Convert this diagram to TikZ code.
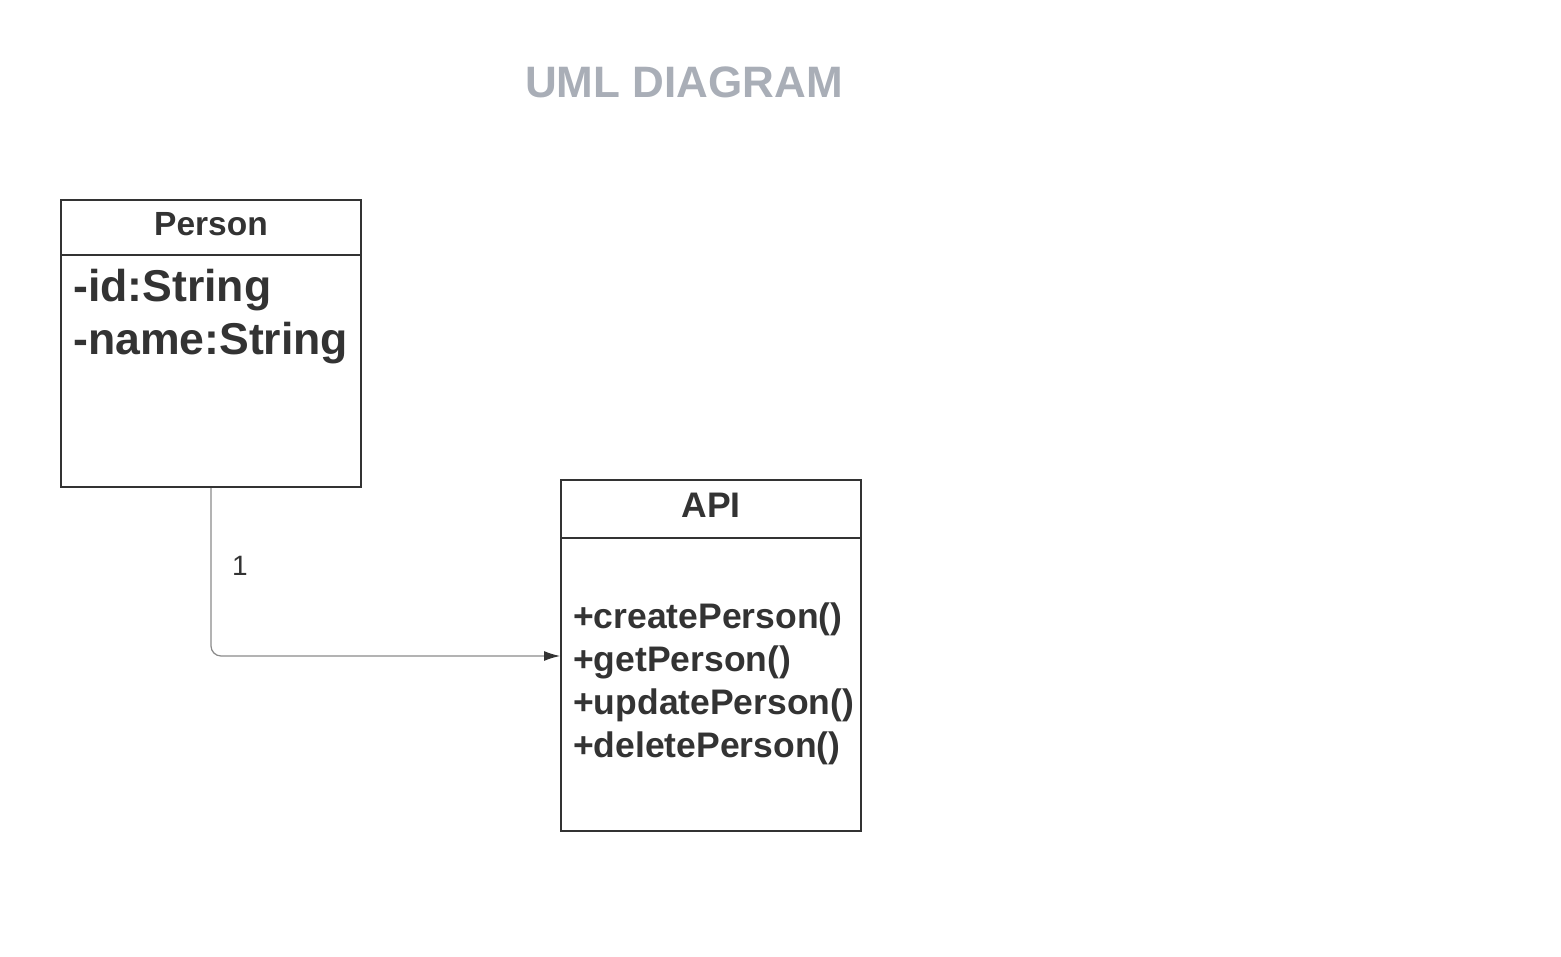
\documentclass[tikz,border=0pt]{standalone}
\usepackage{fontspec}
\setmainfont{Liberation Sans}
\usepackage{tikz}
\usetikzlibrary{arrows.meta}

\definecolor{ink}{HTML}{333333}
\definecolor{titlegray}{HTML}{A9AEB7}
\definecolor{wire}{HTML}{8A8A8A}

\tikzset{
    classbox/.style={draw=ink, line width=2pt, minimum width=300pt, inner sep=0pt},
    member/.style={text=ink, font=\fontsize{#1}{#1}\selectfont\bfseries, anchor=base west, inner sep=0pt},
}

\begin{document}
\begin{tikzpicture}[x=1pt,y=-1pt]
            \useasboundingbox (0,0) rectangle (1561,957);

            % class boxes
            \node[classbox, minimum height=287pt] (person) at (211,343.5) {};
            \draw[ink, line width=2pt] ([yshift=-56pt]person.north west) -- ([yshift=-56pt]person.north east);
            \node[classbox, minimum height=351pt] (api) at (711,655.5) {};
            \draw[ink, line width=2pt] ([yshift=-59pt]api.north west) -- ([yshift=-59pt]api.north east);

            \node[text=titlegray, font=\fontsize{44}{50}\selectfont\bfseries] (title) at (684,82) {UML DIAGRAM};

            \node[text=ink, font=\fontsize{33.5}{38}\selectfont\bfseries] (pname) at (211,224) {Person};
            \node[member=44.6] (pid) at (73,302) {-id:String};
            \node[member=44.6] (pnm) at (73,355) {-name:String};

            \node[text=ink, font=\fontsize{35.5}{40}\selectfont\bfseries] (aname) at (711,505) {API};
            \node[member=35.5] (m1) at (573,628) {+createPerson()};
            \node[member=35.5] (m2) at (573,671) {+getPerson()};
            \node[member=35.5] (m3) at (573,714) {+updatePerson()};
            \node[member=35.5] (m4) at (573,757) {+deletePerson()};

            % association
            \draw[wire, line width=1.2pt, rounded corners=10pt, -{Latex[length=16pt,width=10pt,color=ink]}] (person.south) |- ([yshift=-0.5pt]api.west);
            \node[text=ink, font=\fontsize{28}{34}\selectfont] (mult) at (240,566) {1};
        \end{tikzpicture}
\end{document}
